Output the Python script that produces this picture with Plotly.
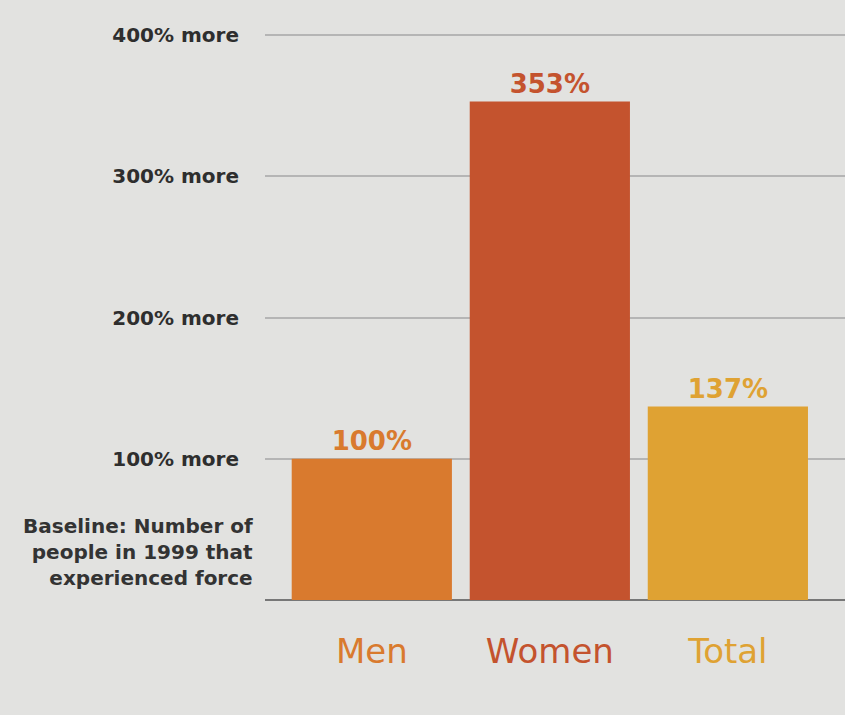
import plotly.graph_objects as go

categories = ["Men", "Women", "Total"]
values = [100, 353, 137]
value_labels = ["100%", "353%", "137%"]
bar_colors = ["#D97A2E", "#C4532E", "#DFA233"]
y_tickvals = [100, 200, 300, 400]
y_ticktext = ["100% more", "200% more", "300% more", "400% more"]
baseline_note = "Baseline: Number of<br>people in 1999 that<br>experienced force"

FONT = "'DejaVu Sans', sans-serif"
BG = "#E2E2E0"

fig = go.Figure()
fig.add_trace(go.Bar(
    x=categories, y=values,
    marker=dict(color=bar_colors, line=dict(width=0)),
    text=[f"<b>{t}</b>" for t in value_labels], textposition="outside",
    textfont=dict(family=FONT, size=26, color=bar_colors),
    cliponaxis=False, width=0.9, hoverinfo="skip",
))

ticktext_x = [f"<span style='color:{c}'>{t}</span>" for t, c in zip(categories, bar_colors)]

fig.update_layout(
    width=845, height=715,
    margin=dict(l=265, r=0, t=21, b=115),
    paper_bgcolor=BG, plot_bgcolor=BG,
    showlegend=False,
    font=dict(family=FONT, color="#333333"),
    xaxis=dict(
        range=[-0.6, 2.658], tickvals=[0, 1, 2], ticktext=ticktext_x,
        tickfont=dict(size=34, family=FONT), showgrid=False, ticks="",
        ticklabelstandoff=28, showline=False, zeroline=False,
    ),
    yaxis=dict(
        range=[0, 410], tickvals=y_tickvals,
        ticktext=[f"<b>{t}</b>" for t in y_ticktext],
        tickfont=dict(size=20, family=FONT, color="#2e2e2e"),
        showgrid=True, gridcolor="#B5B5B5", gridwidth=1.5,
        zeroline=True, zerolinecolor="#777777", zerolinewidth=2,
        ticks="", ticklabelstandoff=25,
    ),
)

fig.add_annotation(
    xref="paper", yref="y", x=0, y=0, xanchor="right", yanchor="bottom",
    xshift=-10, yshift=8, text=f"<b>{baseline_note}</b>", align="right",
    showarrow=False, font=dict(family=FONT, size=20, color="#333333"),
)

fig.write_html(
    "out.html",
    config={"displayModeBar": False},
    post_script=f"document.body.style.margin='0';document.body.style.background='{BG}';",
)
